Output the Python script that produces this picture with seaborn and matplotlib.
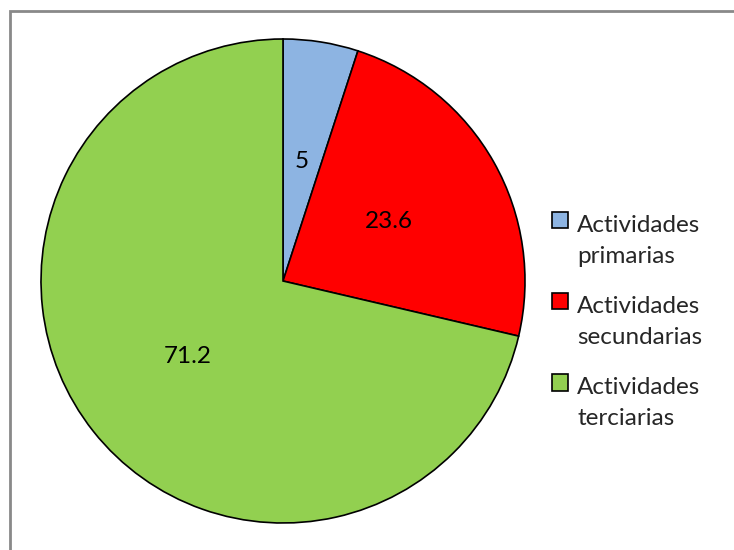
import matplotlib
matplotlib.use("Agg")
import matplotlib.pyplot as plt
import seaborn as sns
from matplotlib.patches import Rectangle, Patch
from matplotlib.legend_handler import HandlerPatch

categories = ["Actividades\nprimarias", "Actividades\nsecundarias", "Actividades\nterciarias"]
values = [5, 23.6, 71.2]
colors = ["#8DB4E2", "#FF0000", "#92D050"]

sns.set_style("white")
plt.rcParams["font.family"] = ["Lato", "DejaVu Sans"]

W, H = 734, 550
fig = plt.figure(figsize=(W / 100, H / 100), dpi=100)

# grey chart-area frame (right/bottom edges fall outside the picture)
fig.patches.append(Rectangle((9.5 / W, -0.05), 1.0, 1 - 10.5 / H + 0.05,
                             transform=fig.transFigure, fill=False,
                             edgecolor="#898989", linewidth=2))

cx, cy, r = 283, 281, 242
ax = fig.add_axes([(cx - r) / W, (H - cy - r) / H, 2 * r / W, 2 * r / H])

total = sum(values)
wedges, texts, autotexts = ax.pie(
    values, colors=colors, startangle=90, counterclock=False, radius=1,
    autopct=lambda p: f"{p * total / 100:g}", pctdistance=0.5,
    wedgeprops={"edgecolor": "black", "linewidth": 1.2},
    textprops={"fontsize": 17.5, "color": "black"})
ax.set_xlim(-1, 1)
ax.set_ylim(-1, 1)
ax.set_aspect("equal")
ax.axis("off")


# legend square sits next to the first line of each two-line label
def top_square(legend, orig_handle, xdescent, ydescent, width, height, fontsize):
    return Rectangle((-xdescent, -ydescent + 15), width, height)


handles = [Patch(facecolor=c, edgecolor="black", linewidth=1.2) for c in colors]
leg = fig.legend(handles, categories, loc="center left",
                 bbox_to_anchor=(530 / W, 1 - 322 / H), frameon=False,
                 fontsize=17.5, handlelength=0.65, handleheight=0.65,
                 handletextpad=0.4, labelspacing=1.2,
                 handler_map={Patch: HandlerPatch(patch_func=top_square)})
for t in leg.get_texts():
    t.set_linespacing(1.6)

fig.savefig("out.png", dpi=100)
